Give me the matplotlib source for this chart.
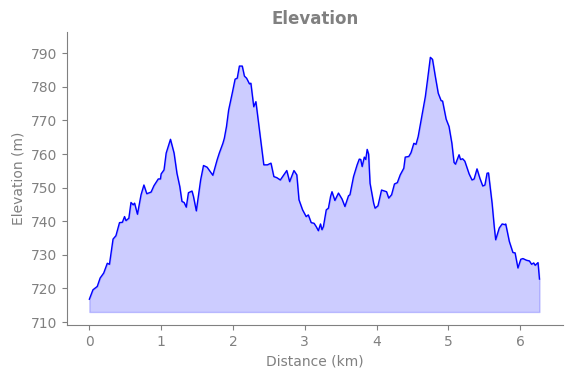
import matplotlib
matplotlib.use("Agg")
import matplotlib.pyplot as plt

distance_km = [0.00, 0.05, 0.11, 0.15, 0.20, 0.25, 0.28, 0.33, 0.37, 0.42, 0.46, 0.49, 0.51, 0.55,
               0.58, 0.61, 0.63, 0.67, 0.72, 0.76, 0.80, 0.86, 0.90, 0.96, 0.99, 1.00, 1.04, 1.07,
               1.13, 1.18, 1.22, 1.26, 1.29, 1.32, 1.35, 1.38, 1.43, 1.45, 1.49, 1.55, 1.59, 1.64,
               1.72, 1.78, 1.81, 1.86, 1.88, 1.91, 1.94, 1.99, 2.03, 2.06, 2.09, 2.13, 2.16, 2.19,
               2.23, 2.25, 2.29, 2.32, 2.38, 2.43, 2.48, 2.53, 2.57, 2.61, 2.66, 2.75, 2.79, 2.85,
               2.89, 2.92, 2.97, 3.02, 3.05, 3.09, 3.13, 3.16, 3.19, 3.22, 3.24, 3.26, 3.30, 3.33,
               3.36, 3.38, 3.42, 3.47, 3.52, 3.56, 3.61, 3.63, 3.68, 3.73, 3.76, 3.78, 3.80, 3.83,
               3.85, 3.87, 3.89, 3.91, 3.96, 3.98, 4.02, 4.07, 4.14, 4.17, 4.21, 4.25, 4.29, 4.33,
               4.38, 4.40, 4.45, 4.48, 4.52, 4.55, 4.58, 4.63, 4.68, 4.71, 4.75, 4.78, 4.82, 4.86,
               4.90, 4.92, 4.97, 5.01, 5.05, 5.08, 5.10, 5.15, 5.17, 5.20, 5.23, 5.29, 5.33, 5.36,
               5.40, 5.44, 5.48, 5.51, 5.54, 5.56, 5.61, 5.64, 5.66, 5.71, 5.75, 5.79, 5.80, 5.85,
               5.90, 5.93, 5.97, 6.01, 6.04, 6.09, 6.13, 6.16, 6.19, 6.21, 6.25, 6.27]
elevation_m = [716.8, 719.6, 720.6, 723.1, 724.6, 727.5, 727.2, 734.7, 735.7, 739.6, 739.7, 741.4, 740.2, 740.9,
               745.6, 744.9, 745.4, 742.1, 747.9, 750.8, 748.2, 748.7, 750.6, 752.6, 752.6, 754.1, 755.3, 760.3,
               764.4, 760.3, 754.3, 750.3, 745.9, 745.6, 744.2, 748.5, 749.0, 747.4, 743.1, 752.3, 756.6, 756.1,
               753.7, 758.3, 760.3, 763.2, 764.7, 768.2, 773.1, 778.1, 782.3, 782.6, 786.2, 786.2, 783.2, 782.6,
               780.9, 781.1, 774.1, 775.6, 765.2, 756.8, 756.8, 757.3, 753.3, 753.0, 752.3, 755.1, 751.8, 755.1,
               753.8, 746.4, 743.4, 741.4, 741.9, 739.6, 739.4, 738.4, 737.2, 739.2, 737.5, 738.4, 743.4, 743.9,
               747.4, 748.8, 746.2, 748.4, 746.6, 744.4, 747.6, 747.9, 753.3, 756.8, 758.5, 758.4, 756.3, 759.1,
               758.4, 761.4, 760.0, 751.3, 745.4, 743.9, 744.6, 749.3, 748.8, 746.9, 747.9, 751.1, 751.5, 753.8,
               755.8, 759.1, 759.3, 760.4, 763.2, 762.9, 765.2, 771.1, 777.1, 782.0, 788.8, 788.2, 783.0, 778.1,
               775.9, 775.8, 770.4, 768.2, 763.2, 757.5, 757.0, 759.8, 758.4, 758.6, 757.9, 754.1, 752.3, 752.6,
               755.6, 752.8, 750.5, 750.8, 754.3, 754.4, 745.4, 738.4, 734.5, 738.0, 739.2, 739.0, 739.2, 734.0,
               730.7, 730.6, 726.1, 728.7, 728.9, 728.4, 728.2, 727.2, 727.6, 726.9, 727.7, 722.8]
fill_base = 713.0

grey = "#808080"
fig = plt.figure(figsize=(5.71, 3.78), dpi=100)
ax = fig.add_axes([0.117, 0.140, 0.8685, 0.775])
ax.plot(distance_km, elevation_m, color="blue", linewidth=1.0)
ax.fill_between(distance_km, elevation_m, fill_base, color="blue", alpha=0.2)
ax.set_ylim(709.1, 796.3)
ax.set_xlim(-0.314, 6.594)
ax.set_yticks([710, 720, 730, 740, 750, 760, 770, 780, 790])
ax.set_xticks([0, 1, 2, 3, 4, 5, 6])
ax.set_title("Elevation", color=grey, fontsize=12, fontweight="bold")
ax.set_xlabel("Distance (km)", color=grey, fontsize=10)
ax.set_ylabel("Elevation (m)", color=grey, fontsize=10)
ax.tick_params(colors=grey, labelsize=10)
for s in ["top", "right"]:
    ax.spines[s].set_visible(False)
for s in ["left", "bottom"]:
    ax.spines[s].set_color(grey)
fig.savefig("out.png", dpi=100)
